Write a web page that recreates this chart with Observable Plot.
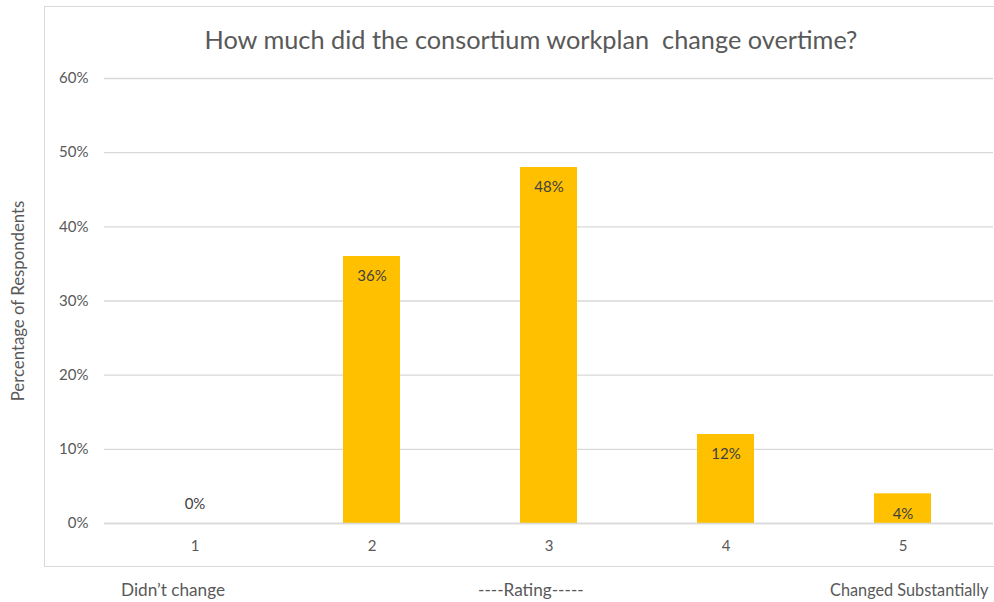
<!DOCTYPE html>
<html>
<head>
<meta charset="utf-8">
<script src="https://cdn.jsdelivr.net/npm/d3@7"></script>
<script src="https://cdn.jsdelivr.net/npm/@observablehq/plot@0.6"></script>
<style>
  html, body { margin: 0; padding: 0; background: #fff; overflow: hidden; }
  #wrap { position: relative; width: 994px; height: 602px; overflow: hidden; font-family: Lato, "Open Sans", sans-serif; }
  #border { position: absolute; left: 44px; top: 6px; width: 960px; height: 561px; border: 1.5px solid #d9d9d9; box-sizing: border-box; }
  #title { position: absolute; left: 0; width: 1062px; top: 24px; text-align: center; font-size: 25.3px; color: #595959; }
  .foot { position: absolute; top: 579px; font-size: 17.2px; color: #595959; white-space: nowrap; }
  #chart { position: absolute; left: 0; top: 0; }
</style>
</head>
<body>
<div id="wrap">
  <div id="border"></div>
  <div id="chart"></div>
  <div id="title">How much did the consortium workplan&nbsp; change overtime?</div>
  <div class="foot" style="left:121px">Didn’t change</div>
  <div class="foot" style="left:478px">----Rating-----</div>
  <div class="foot" style="left:830px; top:580px; font-size:16.3px">Changed Substantially</div>
</div>
<script>
const ratings = ["1", "2", "3", "4", "5"];
const shares = [0, 0.36, 0.48, 0.12, 0.04];
const yTicks = [0, 0.1, 0.2, 0.3, 0.4, 0.5, 0.6];
const yLabel = "Percentage of Respondents";

const data = ratings.map((r, i) => ({rating: r, share: shares[i]}));
const pct = d3.format(".0%");

const chart = Plot.plot({
  width: 994,
  height: 602,
  marginLeft: 104,
  marginRight: 1,
  marginTop: 78,
  marginBottom: 79,
  style: {fontFamily: "Lato, 'Open Sans', sans-serif", fontSize: "15px", color: "#595959", background: "transparent"},
  x: {domain: ratings, paddingInner: 0.68, paddingOuter: 0.34, label: null},
  y: {domain: [0, 0.6], label: null},
  marks: [
    Plot.gridY(yTicks, {stroke: "#d9d9d9", strokeOpacity: 1, strokeWidth: 1.3}),
    Plot.barY(data, {x: "rating", y: "share", fill: "#ffc000"}),
    Plot.ruleY([0], {stroke: "#d9d9d9", strokeWidth: 1.3}),
    Plot.axisY(yTicks, {tickSize: 0, tickPadding: 16, tickFormat: pct, fontSize: 15, fill: "#595959", label: null}),
    Plot.axisX({tickSize: 0, tickPadding: 17, fontSize: 15, fill: "#595959", label: null}),
    Plot.text(data.filter(d => d.share > 0), {x: "rating", y: "share", text: d => pct(d.share), dy: 20, fill: "#404040", fontSize: 15}),
    Plot.text(data.filter(d => d.share === 0), {x: "rating", y: "share", text: d => pct(d.share), dy: -19, fill: "#404040", fontSize: 15}),
    Plot.text([yLabel], {frameAnchor: "left", textAnchor: "middle", dx: -86, rotate: -90, fill: "#595959", fontSize: 16.8, text: d => d})
  ]
});
document.getElementById("chart").appendChild(chart);
</script>
</body>
</html>
